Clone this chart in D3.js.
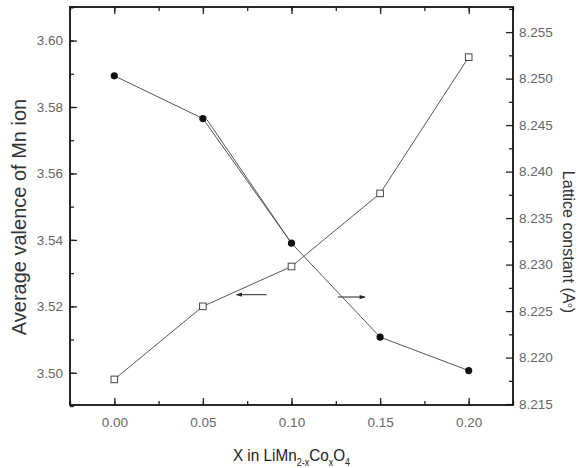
<!DOCTYPE html>
<html><head><meta charset="utf-8">
<script src="https://cdn.jsdelivr.net/npm/d3@7"></script>
<style>body{margin:0;background:#fff}svg{display:block}</style>
</head><body>
<script>
const xValues = [0.00, 0.05, 0.10, 0.15, 0.20];
const valence = [3.498, 3.520, 3.532, 3.554, 3.595];
const lattice = [8.2503, 8.2457, 8.2323, 8.2222, 8.2186];
const xTicks = [0.00, 0.05, 0.10, 0.15, 0.20];
const leftTicks = [3.50, 3.52, 3.54, 3.56, 3.58, 3.60];
const rightTicks = [8.215, 8.220, 8.225, 8.230, 8.235, 8.240, 8.245, 8.250, 8.255];

const W = 582, H = 468;
const L = 70, R = 513, T = 7, B = 405;
const svg = d3.select("body").append("svg").attr("width", W).attr("height", H);

const x = d3.scaleLinear().domain([-0.025, 0.225]).range([L, R]);
const yL = d3.scaleLinear().domain([3.4903, 3.6101]).range([B, T]);
const yR = d3.scaleLinear().domain([8.2149, 8.2577]).range([B, T]);

const font = "'Liberation Sans', Arial, sans-serif";
const tickColor = "#222", labelColor = "#666";

function styleAxis(g){
  g.selectAll(".domain").remove();
  g.selectAll("line").attr("stroke", tickColor).attr("stroke-width", 1.3);
  g.selectAll("text").attr("fill", labelColor).style("font-family", font).style("font-size", "13.5px");
}
const xMinor = d3.range(-0.025, 0.2251, 0.025);
svg.append("g").attr("transform", `translate(0,${B})`)
  .call(d3.axisBottom(x).tickValues(xMinor).tickSize(-4).tickFormat(""))
  .call(styleAxis);
svg.append("g").attr("transform", `translate(0,${B})`)
  .call(d3.axisBottom(x).tickValues(xTicks).tickSize(-7).tickPadding(12).tickFormat(d3.format(".2f")))
  .call(styleAxis);
svg.append("g").attr("transform", `translate(0,${T})`)
  .call(d3.axisTop(x).tickValues(xMinor).tickSize(-4).tickFormat(""))
  .call(styleAxis);
svg.append("g").attr("transform", `translate(0,${T})`)
  .call(d3.axisTop(x).tickValues(xTicks).tickSize(-7).tickFormat(""))
  .call(styleAxis);

const lMinor = d3.range(3.49, 3.611, 0.01);
svg.append("g").attr("transform", `translate(${L},0)`)
  .call(d3.axisLeft(yL).tickValues(lMinor).tickSize(-4).tickFormat(""))
  .call(styleAxis);
svg.append("g").attr("transform", `translate(${L},0)`)
  .call(d3.axisLeft(yL).tickValues(leftTicks).tickSize(-7).tickPadding(7).tickFormat(d3.format(".2f")))
  .call(styleAxis);

const rMinor = d3.range(8.2175, 8.2576, 0.005);
svg.append("g").attr("transform", `translate(${R},0)`)
  .call(d3.axisRight(yR).tickValues(rMinor).tickSize(-4).tickFormat(""))
  .call(styleAxis);
svg.append("g").attr("transform", `translate(${R},0)`)
  .call(d3.axisRight(yR).tickValues(rightTicks).tickSize(-7).tickPadding(6).tickFormat(d3.format(".3f")))
  .call(styleAxis);

// frame
svg.append("rect").attr("x", L).attr("y", T).attr("width", R - L).attr("height", B - T)
  .attr("fill", "none").attr("stroke", "#111").attr("stroke-width", 1.8);

// series lines
const lineColor = "#555";
const valPts = xValues.map((d, i) => [x(d), yL(valence[i])]);
const latPts = xValues.map((d, i) => [x(d), yR(lattice[i])]);
svg.append("path").attr("d", d3.line()(valPts)).attr("fill", "none").attr("stroke", lineColor).attr("stroke-width", 1);
svg.append("path").attr("d", d3.line()(latPts)).attr("fill", "none").attr("stroke", lineColor).attr("stroke-width", 1);
svg.append("path").attr("d", d3.line()([[latPts[1][0] + 4, latPts[1][1] + 1], latPts[2]]))
  .attr("fill", "none").attr("stroke", lineColor).attr("stroke-width", 1);

// markers
svg.selectAll("rect.sq").data(valPts).join("rect").attr("class", "sq")
  .attr("x", d => d[0] - 3.3).attr("y", d => d[1] - 3.3).attr("width", 6.6).attr("height", 6.6)
  .attr("fill", "#fff").attr("stroke", "#444").attr("stroke-width", 1);
svg.selectAll("circle.ci").data(latPts).join("circle").attr("class", "ci")
  .attr("cx", d => d[0]).attr("cy", d => d[1]).attr("r", 3.6).attr("fill", "#111");

// arrows
const defs = svg.append("defs");
defs.append("marker").attr("id", "ah").attr("viewBox", "0 0 10 10").attr("refX", 9).attr("refY", 5)
  .attr("markerWidth", 7).attr("markerHeight", 6).attr("orient", "auto-start-reverse")
  .append("path").attr("d", "M0,1.5 L10,5 L0,8.5 Z").attr("fill", "#222");
const arrowLeft = {x0: 0.086, x1: 0.069, y: 3.5235};
const arrowRight = {x0: 0.1262, x1: 0.1415, y: 3.5228};
[arrowLeft, arrowRight].forEach(a => {
  svg.append("line").attr("x1", x(a.x0)).attr("x2", x(a.x1)).attr("y1", yL(a.y)).attr("y2", yL(a.y))
    .attr("stroke", "#222").attr("stroke-width", 1).attr("marker-end", "url(#ah)");
});

// axis titles
svg.append("text").attr("transform", `translate(26,${(T + B) / 2 + 11}) rotate(-90)`)
  .attr("text-anchor", "middle").attr("fill", "#333").style("font-family", font).style("font-size", "20px")
  .text("Average valence of Mn ion");

const rt = svg.append("text").attr("transform", `translate(563,${(T + B) / 2 + 36}) rotate(90)`)
  .attr("text-anchor", "middle").attr("fill", "#333").style("font-family", font).style("font-size", "16px");
rt.append("tspan").text("Lattice constant (A");
rt.append("tspan").attr("dy", -5).style("font-size", "8px").text("o");
rt.append("tspan").attr("dy", 5).text(")");

const xt = svg.append("text").attr("transform", `translate(${(L + R) / 2},461) scale(0.9,1)`)
  .attr("text-anchor", "middle")
  .attr("fill", "#222").style("font-family", font).style("font-size", "17px");
xt.append("tspan").text("X in LiMn");
xt.append("tspan").attr("dy", 5).style("font-size", "10px").text("2-x");
xt.append("tspan").attr("dy", -5).text("Co");
xt.append("tspan").attr("dy", 5).style("font-size", "10px").text("x");
xt.append("tspan").attr("dy", -5).text("O");
xt.append("tspan").attr("dy", 5).style("font-size", "10px").text("4");
</script>
</body></html>
